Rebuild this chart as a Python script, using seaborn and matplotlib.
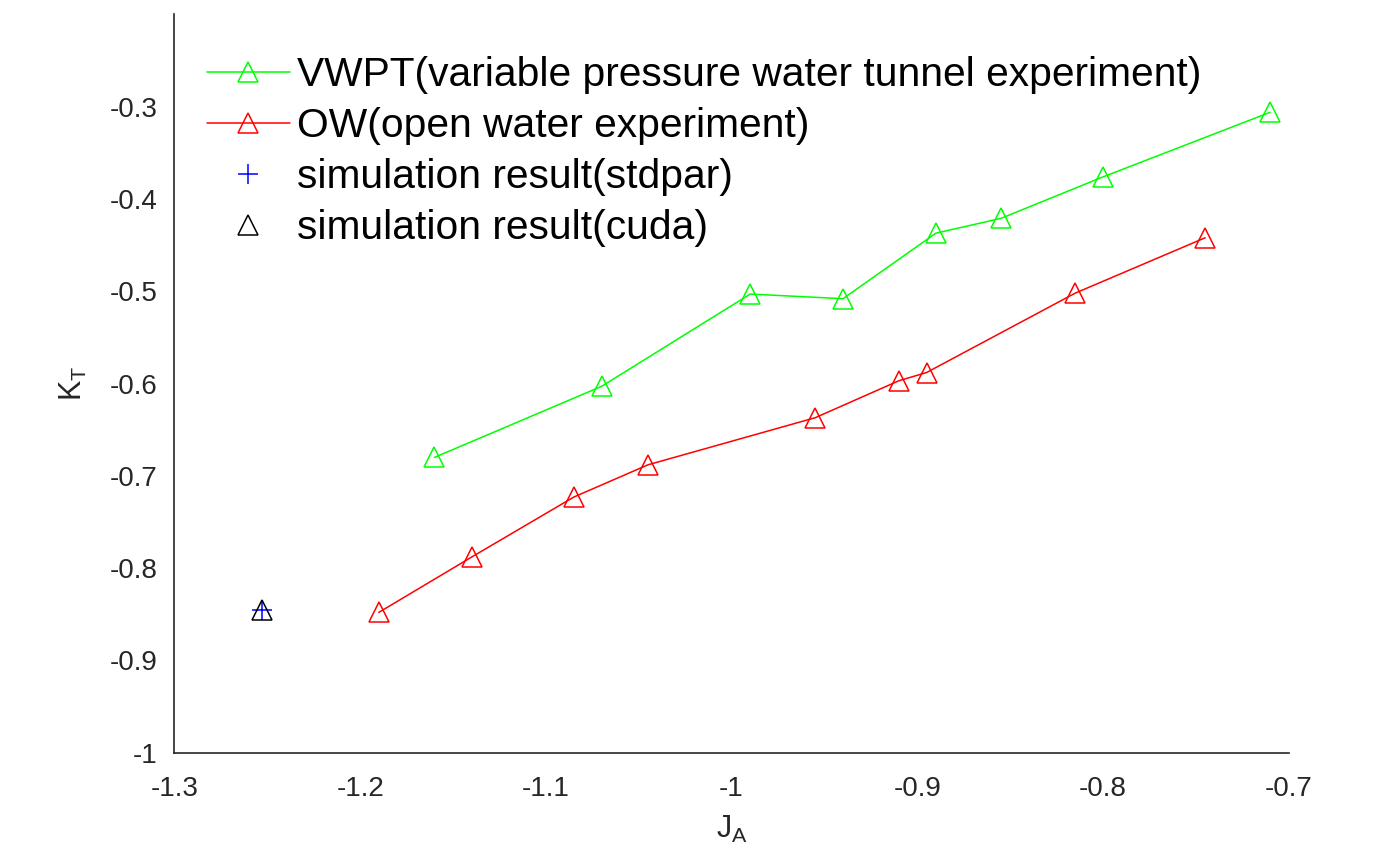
import matplotlib
matplotlib.use("Agg")
import matplotlib.pyplot as plt
import seaborn as sns

# Data
vwpt_J = [-1.16, -1.07, -0.99, -0.94, -0.89, -0.855, -0.80, -0.71]
vwpt_KT = [-0.68, -0.603, -0.503, -0.508, -0.437, -0.421, -0.376, -0.306]
ow_J = [-1.19, -1.14, -1.085, -1.045, -0.955, -0.91, -0.895, -0.815, -0.745]
ow_KT = [-0.848, -0.788, -0.723, -0.688, -0.637, -0.597, -0.588, -0.502, -0.442]
sim_stdpar_J = [-1.253]
sim_stdpar_KT = [-0.845]
sim_cuda_J = [-1.253]
sim_cuda_KT = [-0.845]

labels = ["VWPT(variable pressure water tunnel experiment)",
          "OW(open water experiment)",
          "simulation result(stdpar)",
          "simulation result(cuda)"]
xticks = [-1.3, -1.2, -1.1, -1.0, -0.9, -0.8, -0.7]
xticklabels = ['-1.3', '-1.2', '-1.1', '-1', '-0.9', '-0.8', '-0.7']
yticks = [-1.0, -0.9, -0.8, -0.7, -0.6, -0.5, -0.4, -0.3]
yticklabels = ['-1', '-0.9', '-0.8', '-0.7', '-0.6', '-0.5', '-0.4', '-0.3']

sns.set_style("white")
plt.rcParams['font.family'] = ['Liberation Sans', 'DejaVu Sans']
plt.rcParams['mathtext.fontset'] = 'custom'
plt.rcParams['mathtext.rm'] = 'Liberation Sans'
plt.rcParams['mathtext.it'] = 'Liberation Sans'
plt.rcParams['mathtext.default'] = 'rm'

fig = plt.figure(figsize=(13.88, 8.46), dpi=100)
ax = fig.add_axes([0.1257, 0.1103, 0.8028, 0.8726])

ms = 14
lw = 1.1
sns.lineplot(x=vwpt_J, y=vwpt_KT, ax=ax, sort=False, color='#00FF00', marker='^',
             markersize=ms, markerfacecolor='none', markeredgecolor='#00FF00',
             markeredgewidth=lw, linewidth=lw, label=labels[0])
sns.lineplot(x=ow_J, y=ow_KT, ax=ax, sort=False, color='#FF0000', marker='^',
             markersize=ms, markerfacecolor='none', markeredgecolor='#FF0000',
             markeredgewidth=lw, linewidth=lw, label=labels[1])
sns.lineplot(x=sim_stdpar_J, y=sim_stdpar_KT, ax=ax, sort=False, color='#0000FF', marker='+',
             markersize=ms, markeredgecolor='#0000FF', markeredgewidth=lw,
             linestyle='none', label=labels[2])
sns.lineplot(x=sim_cuda_J, y=sim_cuda_KT, ax=ax, sort=False, color='black', marker='^',
             markersize=ms, markerfacecolor='none', markeredgecolor='black',
             markeredgewidth=lw, linestyle='none', label=labels[3])

ax.set_xlim(-1.3, -0.7)
ax.set_ylim(-1.0, -0.2)
ax.set_xticks(xticks)
ax.set_xticklabels(xticklabels)
ax.set_yticks(yticks)
ax.set_yticklabels(yticklabels)

for s in ['top', 'right']:
    ax.spines[s].set_visible(False)
for s in ['left', 'bottom']:
    ax.spines[s].set_color('#262626')
    ax.spines[s].set_linewidth(1.2)

ax.tick_params(axis='both', direction='in', length=7, width=1.0, color='#262626',
               labelcolor='#262626', labelsize=20)
ax.tick_params(axis='y', pad=12)
ax.tick_params(axis='x', pad=17)

ax.set_xlabel('J$_A$', fontsize=22, color='#262626', labelpad=8)
ax.set_ylabel('K$_T$', fontsize=22, color='#262626', labelpad=15)

leg = ax.legend(loc='upper left', bbox_to_anchor=(0.029, 0.944), frameon=False,
                fontsize=29.3, borderaxespad=0, borderpad=0, handlelength=2.04,
                handletextpad=0.17, labelspacing=0.32)
for t in leg.get_texts():
    t.set_color('black')

fig.savefig('out.png', dpi=100)
